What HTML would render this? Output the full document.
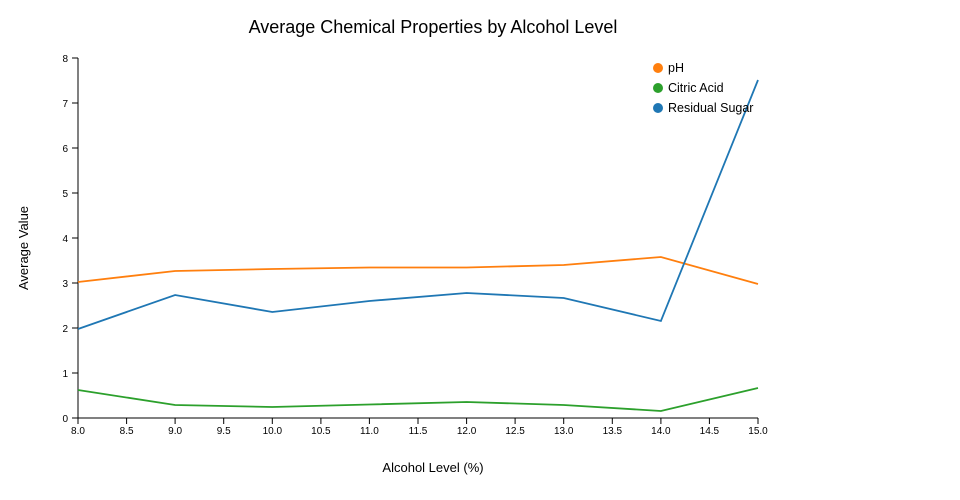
<!DOCTYPE html>
<html><head><meta charset="utf-8"><style>
body{margin:0;background:#fff;}
svg{display:block;font-family:"Liberation Sans","DejaVu Sans",sans-serif;}
</style></head><body>
<svg width="960" height="500" viewBox="0 0 960 500">
<text x="433" y="33" text-anchor="middle" font-size="18" fill="#000">Average Chemical Properties by Alcohol Level</text>
<g stroke="#000" stroke-width="1" fill="none">
<line x1="78" y1="58" x2="78" y2="418"/>
<line x1="78" y1="418" x2="758" y2="418"/>
<path d="M72,418H78M72,373H78M72,328H78M72,283H78M72,238H78M72,193H78M72,148H78M72,103H78M72,58H78"/>
<path d="M78,418V424M126.6,418V424M175.1,418V424M223.7,418V424M272.3,418V424M320.9,418V424M369.4,418V424M418,418V424M466.6,418V424M515.1,418V424M563.7,418V424M612.3,418V424M660.9,418V424M709.4,418V424M758,418V424"/>
</g>
<g font-size="10" fill="#000" text-anchor="end">
<text x="68" y="422">0</text><text x="68" y="377">1</text><text x="68" y="332">2</text><text x="68" y="287">3</text><text x="68" y="242">4</text><text x="68" y="197">5</text><text x="68" y="152">6</text><text x="68" y="107">7</text><text x="68" y="62">8</text>
</g>
<g font-size="10" fill="#000" text-anchor="middle">
<text x="78" y="434">8.0</text><text x="126.6" y="434">8.5</text><text x="175.1" y="434">9.0</text><text x="223.7" y="434">9.5</text><text x="272.3" y="434">10.0</text><text x="320.9" y="434">10.5</text><text x="369.4" y="434">11.0</text><text x="418" y="434">11.5</text><text x="466.6" y="434">12.0</text><text x="515.1" y="434">12.5</text><text x="563.7" y="434">13.0</text><text x="612.3" y="434">13.5</text><text x="660.9" y="434">14.0</text><text x="709.4" y="434">14.5</text><text x="758" y="434">15.0</text>
</g>
<text x="433" y="472" text-anchor="middle" font-size="13">Alcohol Level (%)</text>
<text transform="translate(28,248) rotate(-90)" text-anchor="middle" font-size="13">Average Value</text>
<g fill="none" stroke-width="1.8">
<polyline stroke="#ff7f0e" points="78,282 175.1,271 272.3,269 369.4,267.5 466.6,267.5 563.7,265 660.9,257 758,284"/>
<polyline stroke="#2ca02c" points="78,390 175.1,405 272.3,407 369.4,404.5 466.6,402 563.7,405 660.9,411 758,388"/>
<polyline stroke="#1f77b4" points="78,329 175.1,295 272.3,312 369.4,301 466.6,293 563.7,298 660.9,321 758,80"/>
</g>
<g font-size="12.5" fill="#000">
<circle cx="658" cy="68" r="5" fill="#ff7f0e"/><text x="668" y="72">pH</text>
<circle cx="658" cy="88" r="5" fill="#2ca02c"/><text x="668" y="92">Citric Acid</text>
<circle cx="658" cy="108" r="5" fill="#1f77b4"/><text x="668" y="112">Residual Sugar</text>
</g>
</svg>
</body></html>
